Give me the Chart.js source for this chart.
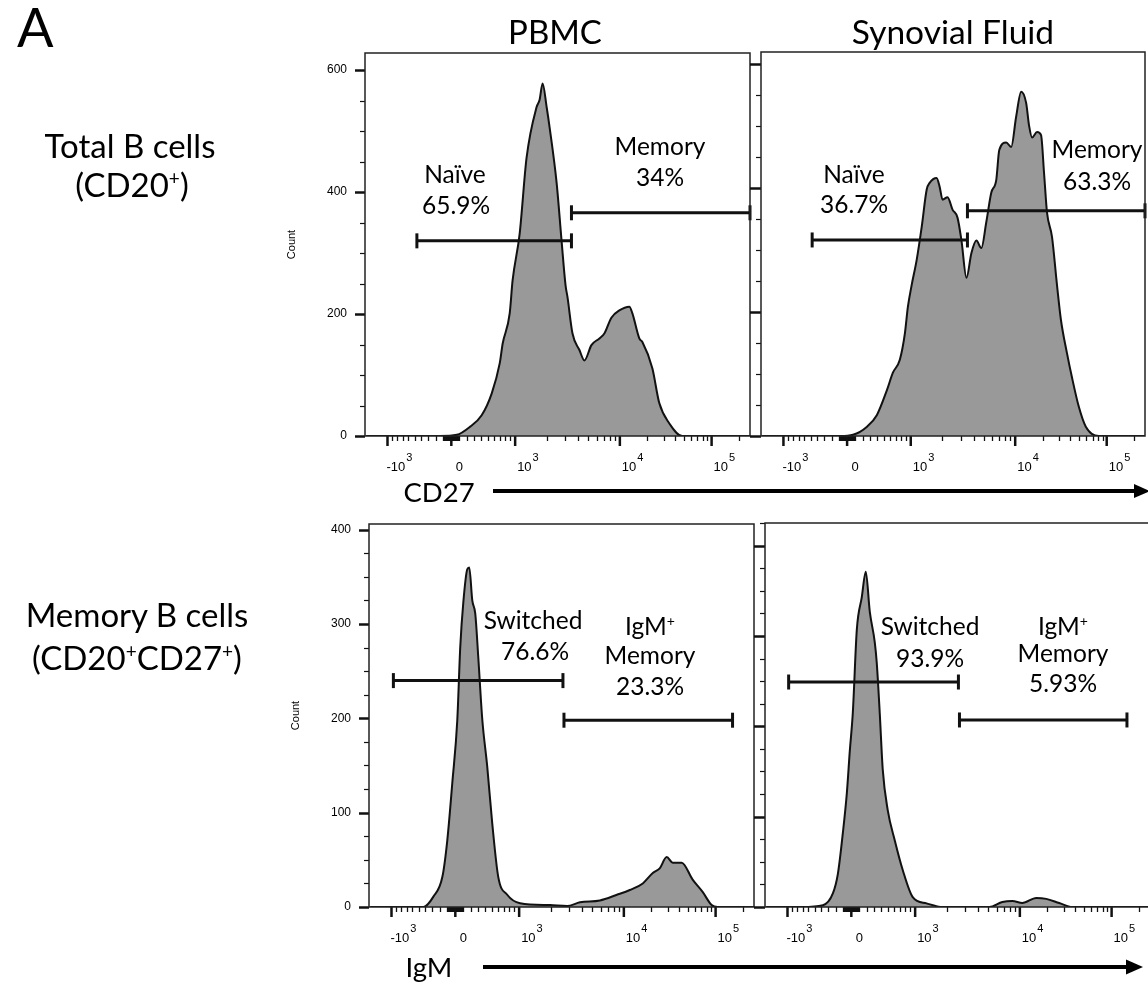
<!DOCTYPE html>
<html>
<head>
<meta charset="utf-8">
<script src="https://cdn.jsdelivr.net/npm/chart.js@4.4.1/dist/chart.umd.min.js"></script>
<style>
html, body { margin: 0; padding: 0; background: #fff; width: 1148px; height: 985px; overflow: hidden; }
canvas { position: absolute; }
#overlay { position: absolute; left: 0; top: 0; pointer-events: none; }
#overlay text { font-family: Lato, "Open Sans", sans-serif; fill: #000; }
</style>
</head>
<body>
<canvas id="tl"></canvas>
<canvas id="bl"></canvas>
<canvas id="tr"></canvas>
<canvas id="br"></canvas>

<svg id="overlay" width="1148" height="985">
  <text x="17" y="47" font-size="54">A</text>
  <text x="555" y="44" font-size="33" text-anchor="middle">PBMC</text>
  <text x="953" y="44" font-size="33.5" text-anchor="middle">Synovial Fluid</text>

  <text x="130" y="158" font-size="33" text-anchor="middle">Total B cells</text>
  <text x="132" y="197" font-size="33" text-anchor="middle">(CD20<tspan dy="-12" font-size="19">+</tspan><tspan dy="12">)</tspan></text>
  <text x="137" y="627" font-size="33" text-anchor="middle">Memory B cells</text>
  <text x="137" y="670" font-size="33" text-anchor="middle">(CD20<tspan dy="-12" font-size="19">+</tspan><tspan dy="12">CD27</tspan><tspan dy="-12" font-size="19">+</tspan><tspan dy="12">)</tspan></text>

  <!-- gate labels -->
  <g font-size="24.5" text-anchor="middle">
    <text x="455" y="183">Naïve</text>
    <text x="456" y="214">65.9%</text>
    <text x="660" y="155">Memory</text>
    <text x="660" y="186">34%</text>

    <text x="854" y="183">Naïve</text>
    <text x="854" y="213">36.7%</text>
    <text x="1097" y="158">Memory</text>
    <text x="1097" y="190">63.3%</text>

    <text x="533" y="629">Switched</text>
    <text x="535" y="660">76.6%</text>
    <text x="650" y="635">IgM<tspan dy="-9" font-size="14">+</tspan></text>
    <text x="650" y="664">Memory</text>
    <text x="650" y="695">23.3%</text>

    <text x="930" y="635">Switched</text>
    <text x="930" y="667">93.9%</text>
    <text x="1063" y="635">IgM<tspan dy="-9" font-size="14">+</tspan></text>
    <text x="1063" y="662">Memory</text>
    <text x="1063" y="692">5.93%</text>
  </g>

  <!-- parameter arrows -->
  <text x="439" y="502" font-size="27.5" text-anchor="middle">CD27</text>
  <line x1="493" y1="491" x2="1138" y2="491" stroke="#000" stroke-width="4"/>
  <polygon points="1134,484 1150,491 1134,498" fill="#000"/>
  <text x="429" y="977" font-size="27.5" text-anchor="middle">IgM</text>
  <line x1="483" y1="967" x2="1130" y2="967" stroke="#000" stroke-width="4"/>
  <polygon points="1126,959.5 1143,967 1126,974.5" fill="#000"/>
</svg>

<script>
// CD27 histograms (fluorescence intensity, event count)
const pbmcCd27X = [-1600, -300, -147, 70, 240, 405, 560, 695, 750, 885, 945, 1105, 1285, 1600, 1710, 1830, 2000, 2130, 2490, 2770, 3030, 3160, 3530, 4110, 4590, 5350, 6380, 7110, 8300, 9890, 12700, 13700, 16300, 17600, 22600, 26900, 34500, 47800, 262000];
const pbmcCd27Y = [0, 0, 0, 2, 15, 34, 70, 119, 152, 201, 255, 332, 456, 539, 551, 578, 539, 507, 415, 322, 247, 228, 168, 141, 124, 149, 160, 168, 194, 206, 212, 201, 160, 154, 111, 54, 21, 0, 0];

const sfCd27X = [-1600, -89, 76, 259, 399, 552, 652, 777, 877, 938, 1022, 1140, 1273, 1420, 1517, 1768, 1889, 2017, 2251, 2512, 2803, 3060, 3415, 3810, 4250, 4740, 5290, 5900, 6590, 7040, 8210, 9160, 10250, 11620, 13170, 14190, 15300, 17340, 19170, 20670, 22280, 25250, 28600, 31620, 36750, 41650, 49600, 59100, 81900, 262000];
const sfCd27Y = [0, 0, 2, 15, 34, 74, 102, 123, 166, 208, 244, 284, 337, 397, 408, 416, 402, 381, 385, 365, 352, 315, 255, 295, 315, 303, 345, 392, 413, 461, 473, 466, 515, 555, 537, 500, 481, 490, 485, 424, 360, 321, 244, 187, 134, 95, 47, 15, 0, 0];

// IgM histograms
const pbmcIgmX = [-1600, -427, -286, -166, -102, -38, 25, 63, 102, 153, 179, 219, 259, 300, 356, 428, 504, 601, 759, 1022, 1973, 2865, 3810, 5900, 8590, 11620, 16080, 20670, 24600, 29300, 34100, 42700, 56200, 72200, 90600, 105000, 262000];
const pbmcIgmY = [0, 0, 11, 32, 71, 132, 198, 276, 323, 358, 360, 325, 311, 265, 199, 149, 89, 32, 13, 4, 2, 1, 5, 7, 13, 18, 25, 36, 41, 53, 47, 47, 29, 16, 2, 0, 0];

const sfIgmX = [-1600, -712, -377, -239, -172, -108, -57, -19, 19, 70, 134, 186, 239, 307, 334, 377, 421, 497, 609, 750, 948, 1287, 1828, 5120, 6810, 8480, 10650, 15120, 19400, 26870, 37200, 262000];
const sfIgmY = [0, 0, 2, 15, 37, 82, 126, 173, 215, 307, 343, 371, 327, 293, 271, 215, 152, 107, 74, 41, 11, 4, 0, 0, 5.5, 6.6, 4.4, 10, 9, 4.4, 0, 0];

// gates: [from, to, count level]
const pbmcCd27Gates = [[-466, 3450, 320], [3450, 262144, 366]];
const sfCd27Gates = [[-475, 3490, 316], [3490, 262144, 363]];
const pbmcIgmGates = [[-959, 2620, 240], [2680, 153000, 198]];
const sfIgmGates = [[-975, 2590, 249], [2650, 147000, 207]];

// y tick values
const cd27YTicks = [0, 200, 400, 600];
const igmYTicks = [0, 100, 200, 300, 400];

// x axis range and tick labels
const xMin = -1640, xMax = 262144;
const xMajorTicks = [-1000, 0, 1000, 1e4, 1e5];
const xTickBase = ['-10', '0', '10', '10', '10'];
const xTickExp = ['3', '', '3', '4', '5'];

// biexponential display transform: linear-ish around zero, log above 10^3
function biex(v) {
    const a = Math.abs(v), s = Math.sign(v);
    let d;
    if (a < 1000) d = 56 * Math.asinh(a / 710);
    else if (a < 1e4) d = 64 + 105 * Math.log10(a / 1000);
    else d = 169 + 92 * Math.log10(a / 1e4);
    return s * d;
}

const xMinorTicks = [2e5];
for (let k = 1; k <= 9; k++) {
    xMinorTicks.push(k * 10, -k * 10, k * 100, -k * 100);
    if (k > 1) xMinorTicks.push(k * 1000, -k * 1000, k * 1e4);
}

const flowAxes = {
    id: 'flowAxes',
    afterDraw(chart, args, opts) {
        const ctx = chart.ctx;
        const {left, right, top, bottom} = chart.chartArea;
        const xs = chart.scales.x, ys = chart.scales.y;
        ctx.save();
        ctx.strokeStyle = '#111';
        ctx.fillStyle = '#000';
        // x ticks
        xMinorTicks.forEach(v => {
            if (v <= xMin || v >= xMax) return;
            const px = Math.round(xs.getPixelForValue(biex(v))) + 0.5;
            ctx.lineWidth = 1.3;
            ctx.beginPath(); ctx.moveTo(px, bottom); ctx.lineTo(px, bottom + 5); ctx.stroke();
        });
        xMajorTicks.forEach((v, i) => {
            const px = xs.getPixelForValue(biex(v));
            ctx.lineWidth = 2.5;
            ctx.beginPath(); ctx.moveTo(px, bottom); ctx.lineTo(px, bottom + 10); ctx.stroke();
            ctx.font = '13px "Liberation Sans", Arial, sans-serif';
            ctx.textBaseline = 'alphabetic';
            if (xTickExp[i] === '') {
                ctx.textAlign = 'center';
                ctx.fillText(xTickBase[i], px + 8, bottom + 35);
            } else {
                ctx.textAlign = 'left';
                const bx = xTickBase[i].startsWith('-') ? px - 1 : px + 2;
                ctx.fillText(xTickBase[i], bx, bottom + 35);
                const w = ctx.measureText(xTickBase[i]).width;
                ctx.font = '11px "Liberation Sans", Arial, sans-serif';
                ctx.fillText(xTickExp[i], bx + w + 1, bottom + 25);
            }
        });
        // y ticks
        const majLen = opts.majorLen;
        for (let v = 0; v <= ys.max; v += opts.minorStep) {
            const py = Math.round(ys.getPixelForValue(v)) + 0.5;
            const major = Math.abs(v % opts.majorStep) < 1e-6;
            ctx.lineWidth = major ? 2.5 : 1.2;
            ctx.beginPath(); ctx.moveTo(left - (major ? majLen : 5), py); ctx.lineTo(left, py); ctx.stroke();
        }
        // frame
        ctx.lineWidth = 1.5;
        ctx.strokeStyle = '#222';
        ctx.strokeRect(left, top, right - left, bottom - top);
        ctx.restore();
    }
};

const panels = [
    {id: 'tl', left: 365, top: 53, right: 750, bottom: 436, yMax: 628, step: 200, minor: 50, yTicks: cd27YTicks, labels: true, xs: pbmcCd27X, ys: pbmcCd27Y, gates: pbmcCd27Gates},
    {id: 'tr', left: 761, top: 52, right: 1145, bottom: 436, yMax: 619, step: 200, minor: 50, yTicks: cd27YTicks, labels: false, xs: sfCd27X, ys: sfCd27Y, gates: sfCd27Gates},
    {id: 'bl', left: 369, top: 524, right: 754, bottom: 907, yMax: 406, step: 100, minor: 25, yTicks: igmYTicks, labels: true, xs: pbmcIgmX, ys: pbmcIgmY, gates: pbmcIgmGates},
    {id: 'br', left: 765, top: 523, right: 1150, bottom: 907, yMax: 425, step: 100, minor: 25, yTicks: igmYTicks, labels: false, xs: sfIgmX, ys: sfIgmY, gates: sfIgmGates}
];

const AXIS_W = 80, AXIS_H = 45, PAD_T = 15, PAD_R = 15;

panels.forEach(p => {
    const canvas = document.getElementById(p.id);
    canvas.width = (p.right - p.left) + AXIS_W + PAD_R;
    canvas.height = (p.bottom - p.top) + PAD_T + AXIS_H;
    canvas.style.left = (p.left - AXIS_W) + 'px';
    canvas.style.top = (p.top - PAD_T) + 'px';

    const gateSets = p.gates.map(g => ({
        data: [{x: biex(g[0]), y: g[2]}, {x: biex(g[1]), y: g[2]}],
        borderColor: '#111',
        borderWidth: 3,
        pointStyle: 'line',
        pointRotation: 90,
        pointRadius: 7.5,
        pointBorderWidth: 3,
        pointBorderColor: '#111',
        fill: false,
        clip: false
    }));

    const hist = {
        data: p.xs.map((x, i) => ({x: biex(x), y: p.ys[i]})),
        borderColor: '#111',
        borderWidth: 2,
        backgroundColor: '#999999',
        fill: 'origin',
        pointRadius: 0,
        cubicInterpolationMode: 'monotone'
    };

    new Chart(canvas, {
        type: 'line',
        data: {datasets: [...gateSets, hist]},
        options: {
            responsive: false,
            animation: false,
            devicePixelRatio: 1,
            events: [],
            layout: {padding: {left: 0, top: PAD_T, right: PAD_R, bottom: 0}},
            plugins: {
                legend: {display: false},
                tooltip: {enabled: false},
                flowAxes: {majorStep: p.step, minorStep: p.minor, majorLen: p.labels ? 10 : 11}
            },
            scales: {
                x: {
                    type: 'linear',
                    min: biex(xMin),
                    max: biex(xMax),
                    grid: {display: false, drawTicks: false},
                    border: {display: false},
                    ticks: {display: false},
                    afterFit: s => { s.height = AXIS_H; s.paddingLeft = 0; s.paddingRight = 0; }
                },
                y: {
                    type: 'linear',
                    min: 0,
                    max: p.yMax,
                    grid: {display: false, drawTicks: false},
                    border: {display: false},
                    afterBuildTicks: s => { s.ticks = p.yTicks.map(v => ({value: v})); },
                    ticks: {
                        display: p.labels,
                        padding: 18,
                        color: '#000',
                        font: {family: '"Liberation Sans", Arial, sans-serif', size: 12},
                        callback: v => String(v)
                    },
                    title: {
                        display: p.labels,
                        text: 'Count',
                        color: '#000',
                        font: {family: '"Liberation Sans", Arial, sans-serif', size: 11},
                        padding: {top: 0, bottom: 0}
                    },
                    afterFit: s => { s.width = AXIS_W; s.paddingTop = 0; s.paddingBottom = 0; }
                }
            }
        },
        plugins: [flowAxes]
    });
});
</script>
</body>
</html>
